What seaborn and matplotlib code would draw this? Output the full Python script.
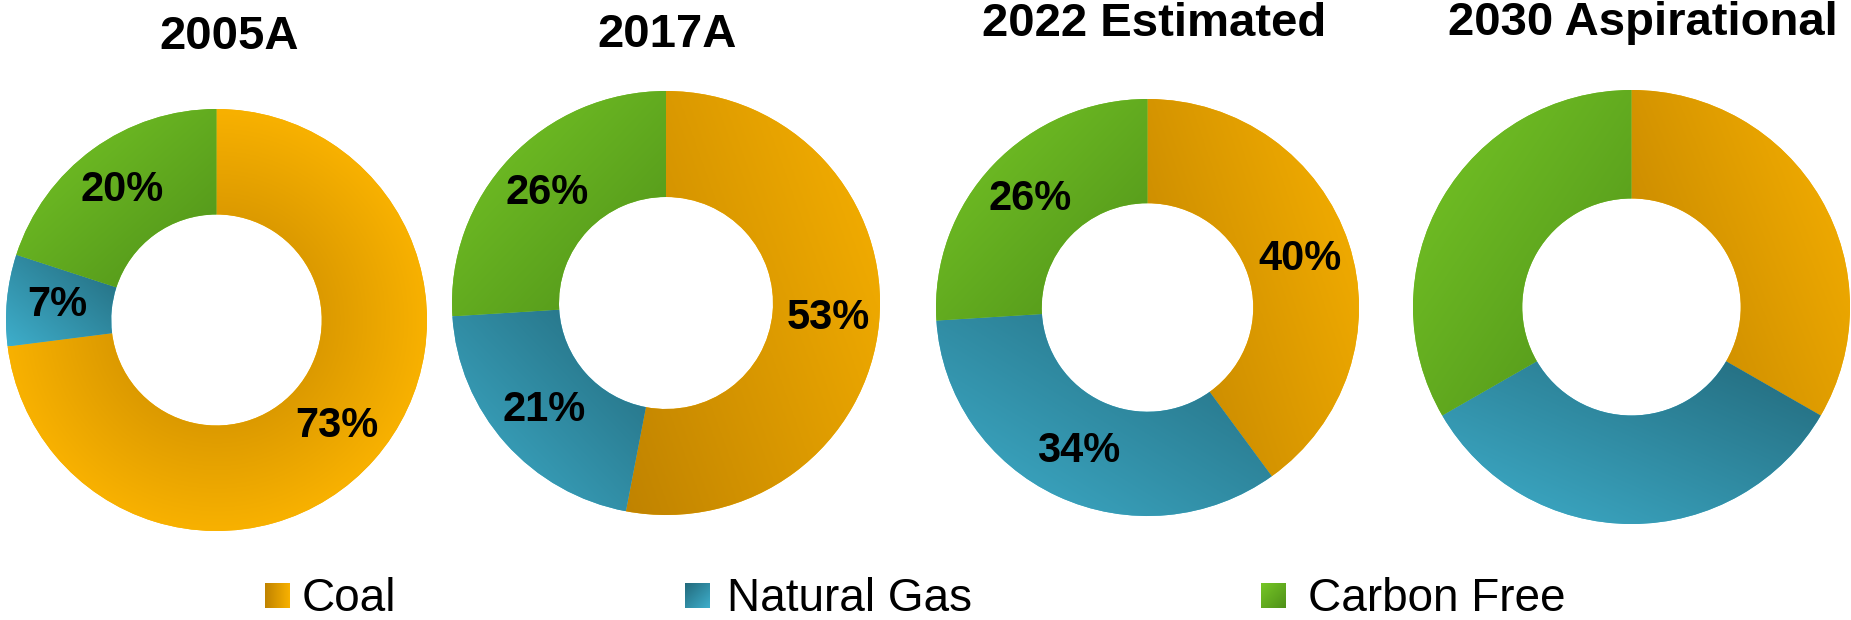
import numpy as np
import matplotlib
matplotlib.use('Agg')
import matplotlib.pyplot as plt
import seaborn as sns

years = ['2005A', '2017A', '2022 Estimated', '2030 Aspirational']
sources = ['Coal', 'Natural Gas', 'Carbon Free']
coal = [73, 53, 40, 33.3]
natural_gas = [7, 21, 34, 33.3]
carbon_free = [20, 26, 26, 33.3]
show_labels = [True, True, True, False]

sns.set_theme(style='white')
plt.rcParams['font.family'] = ['Liberation Sans', 'DejaVu Sans']
plt.rcParams['text.color'] = 'black'

# dark end, light end, direction in which the colour gets lighter
grad = {
    'Coal': ('#c08300', '#f8b100', (1, 0.6)),
    'Natural Gas': ('#236a7c', '#3eaecb', (-1, -1)),
    'Carbon Free': ('#4f9119', '#76c626', (-1, 1)),
}
legend_dir = {'Coal': (1, 0), 'Natural Gas': (1, -1), 'Carbon Free': (-1, 1)}
cmaps = {k: sns.blend_palette([v[0], v[1]], n_colors=256, as_cmap=True) for k, v in grad.items()}

W, H = 1851, 620
fig = plt.figure(figsize=(W / 100, H / 100), dpi=100)

# donut boxes in pixels: left, top, width, height
boxes = [(6, 109, 421, 422), (452, 91, 428, 424), (936, 99, 423, 417), (1413, 90, 437, 434)]
title_xy = [(229, 49), (667, 47), (1154, 36), (1643, 35)]


def gradient_img(direction, n=200):
    xx, yy = np.meshgrid(np.linspace(0, 1, n), np.linspace(0, 1, n))
    dx, dy = direction
    return (dx * (xx - 0.5) + dy * (yy - 0.5)) / (abs(dx) + abs(dy)) + 0.5


def radial_img(n=300):
    xx, yy = np.meshgrid(np.linspace(-1, 1, n), np.linspace(-1, 1, n))
    r = np.clip(np.hypot(xx, yy), 0.5, 1)
    return 0.5 + 0.5 * (r - 0.5) / 0.5


for i, year in enumerate(years):
    l, t, w, h = boxes[i]
    ax = fig.add_axes([l / W, 1 - (t + h) / H, w / W, h / H])
    vals = [coal[i], natural_gas[i], carbon_free[i]]
    res = ax.pie(vals, startangle=90, counterclock=False, radius=1,
                 colors=[grad[s][1] for s in sources],
                 wedgeprops=dict(width=0.5, linewidth=0),
                 autopct=(lambda p: '%.0f%%' % p) if show_labels[i] else None,
                 pctdistance=0.76)
    wedges = res[0]
    if show_labels[i]:
        for txt in res[2]:
            txt.set_fontsize(30)
            txt.set_fontweight('bold')
            txt.set_color('black')
            txt.set_zorder(10)
    for wdg, v, src in zip(wedges, vals, sources):
        if v > 60:
            # big slice: shade darker towards the hole
            im = ax.imshow(radial_img(), cmap=cmaps[src], vmin=0, vmax=1,
                           extent=[-1, 1, -1, 1], origin='lower',
                           aspect='auto', interpolation='bilinear', zorder=3)
        else:
            ext = wdg.get_path().get_extents()
            im = ax.imshow(gradient_img(grad[src][2]), cmap=cmaps[src], vmin=0, vmax=1,
                           extent=[ext.x0, ext.x1, ext.y0, ext.y1], origin='lower',
                           aspect='auto', interpolation='bilinear', zorder=3)
        im.set_clip_path(wdg)
    ax.set_xlim(-1, 1)
    ax.set_ylim(-1, 1)
    ax.set_aspect('auto')
    ax.axis('off')
    fig.text(title_xy[i][0] / W, 1 - title_xy[i][1] / H, year, ha='center', va='baseline',
             fontsize=34, fontweight='bold', color='black')

# legend
sq_x = [265, 685, 1261]
txt_x = [302, 727, 1308]
for src, sx, tx in zip(sources, sq_x, txt_x):
    lax = fig.add_axes([sx / W, 1 - 608 / H, 25 / W, 25 / H])
    lax.imshow(gradient_img(legend_dir[src], 50), cmap=cmaps[src], vmin=0, vmax=1,
               origin='lower', aspect='auto', interpolation='bilinear')
    lax.axis('off')
    fig.text(tx / W, 1 - 611 / H, src, ha='left', va='baseline', fontsize=33, color='black')

fig.savefig('out.png', dpi=100)
